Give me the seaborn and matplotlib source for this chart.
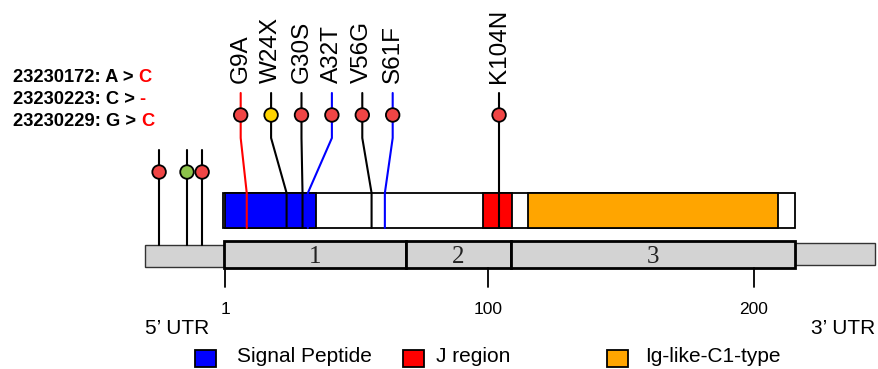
import numpy as np
import matplotlib
matplotlib.use("Agg")
import matplotlib.pyplot as plt
import seaborn as sns

# --- data ---
mut_names = ["G9A", "W24X", "G30S", "A32T", "V56G", "S61F", "K104N"]
mut_pos = [9, 24, 30, 32, 56, 61, 104]
mut_head_colors = ["#f04545", "#ffd400", "#f04545", "#f04545", "#f04545", "#f04545", "#f04545"]
mut_stem_colors = ["#ff0000", "black", "black", "#0000ff", "black", "#0000ff", "black"]

utr_mut_pos = [-24.0, -13.5, -7.8]
utr_mut_colors = ["#f04545", "#8cc24a", "#f04545"]
utr_mut_genomic = ["23230172", "23230223", "23230229"]
utr_mut_ref = ["A", "C", "G"]
utr_mut_alt = ["C", "-", "C"]

protein_len = 215.5
domain_names = ["Signal Peptide", "J region", "Ig-like-C1-type"]
domain_start = [1, 98, 115]
domain_end = [35, 109, 209]
domain_colors = ["#0000ff", "#ff0000", "#ffa500"]

exon_labels = ["1", "2", "3"]
exon_bounds = [0.5, 69, 108.5, 215.5]
utr5 = (-29.3, 0.5)
utr3 = (215.5, 245.5)

tick_pos = [1, 100, 200]
tick_labels = ["1", "100", "200"]

# --- layout (x in residues, y in pixels from top) ---
PX = 2.656
X0 = 1 - 225.5 / PX
def lx(p):
    return X0 + p / PX

sns.set_theme(style="white")
plt.rcParams["font.family"] = ["Liberation Sans", "DejaVu Sans"]

fig = plt.figure(figsize=(8.79, 3.69), dpi=100)
ax = fig.add_axes([0, 0, 1, 1])
ax.set_xlim(X0, X0 + 879 / PX)
ax.set_ylim(369, 0)
ax.axis("off")

# protein box and domains
ax.barh(210.5, protein_len, left=0, height=35, color="white", edgecolor="black", linewidth=1.3, zorder=1)
for s, e, c in zip(domain_start, domain_end, domain_colors):
    ax.barh(210.5, e - s, left=s, height=35, color=c, edgecolor="black", linewidth=1.3, zorder=2)

# gene structure
ax.barh(256, utr5[1] - utr5[0], left=utr5[0], height=22, color="#d3d3d3", edgecolor="#333333", linewidth=1, zorder=1)
ax.barh(254, utr3[1] - utr3[0], left=utr3[0], height=22, color="#d3d3d3", edgecolor="#333333", linewidth=1, zorder=1)
for i in range(3):
    ax.barh(254.5, exon_bounds[i + 1] - exon_bounds[i], left=exon_bounds[i], height=27,
            color="#d3d3d3", edgecolor="black", linewidth=2, zorder=2)
    ax.text((exon_bounds[i] + exon_bounds[i + 1]) / 2, 257, exon_labels[i], ha="center", va="center",
            family="Liberation Serif", fontsize=18, color="#222222", zorder=3)

# axis ticks
for t, lab in zip(tick_pos, tick_labels):
    ax.plot([t, t], [268, 287], color="black", lw=1.3)
    ax.text(t, 310, lab, ha="center", va="center", fontsize=12.5, color="black")
ax.text(utr5[0], 328, "5’ UTR", ha="left", va="center", fontsize=15, color="black")
ax.text(utr3[1], 328, "3’ UTR", ha="right", va="center", fontsize=15, color="black")

# protein mutations: spread the heads around their mean
gap = 30.4 / PX
mean_pos = np.mean(mut_pos[:6])
head_x = [mean_pos + (i - 2.5) * gap for i in range(6)] + [mut_pos[6]]
for hx, p, sc in zip(head_x, mut_pos, mut_stem_colors):
    ax.plot([hx, hx, p, p], [93, 138, 193, 228], color=sc, lw=1.5, zorder=3)
sns.scatterplot(x=head_x, y=[115] * len(head_x), hue=mut_head_colors,
                palette={c: c for c in set(mut_head_colors)}, s=95, edgecolor="black",
                linewidth=1.3, legend=False, ax=ax, zorder=4)
for hx, name in zip(head_x, mut_names):
    ax.text(hx, 83, name, rotation=90, ha="center", va="bottom", fontsize=17.5, color="black")

# UTR mutations
for p in utr_mut_pos:
    ax.plot([p, p], [150, 245], color="black", lw=1.5, zorder=3)
sns.scatterplot(x=utr_mut_pos, y=[172] * 3, hue=utr_mut_colors,
                palette={c: c for c in set(utr_mut_colors)}, s=95, edgecolor="black",
                linewidth=1.3, legend=False, ax=ax, zorder=4)

for i, (g, r, a) in enumerate(zip(utr_mut_genomic, utr_mut_ref, utr_mut_alt)):
    t1 = ax.text(lx(13), 82 + i * 22, f"{g}: {r} >", ha="left", va="baseline",
                 fontsize=13.2, fontweight="bold", color="black")
    ax.annotate(a, xy=(1, 0), xycoords=t1, xytext=(3.5, 0), textcoords="offset points",
                ha="left", va="bottom", fontsize=13.2, fontweight="bold", color="#ff0000")

# legend
sq_x = [195, 403, 607]
txt_x = [237, 436, 645]
for sx, tx, name, c in zip(sq_x, txt_x, domain_names, domain_colors):
    ax.barh(358, 21 / PX, left=lx(sx), height=17, color=c, edgecolor="black", linewidth=1.3)
    ax.text(lx(tx), 362, name, ha="left", va="baseline", fontsize=15, color="black")

fig.savefig("out.png", dpi=100)
